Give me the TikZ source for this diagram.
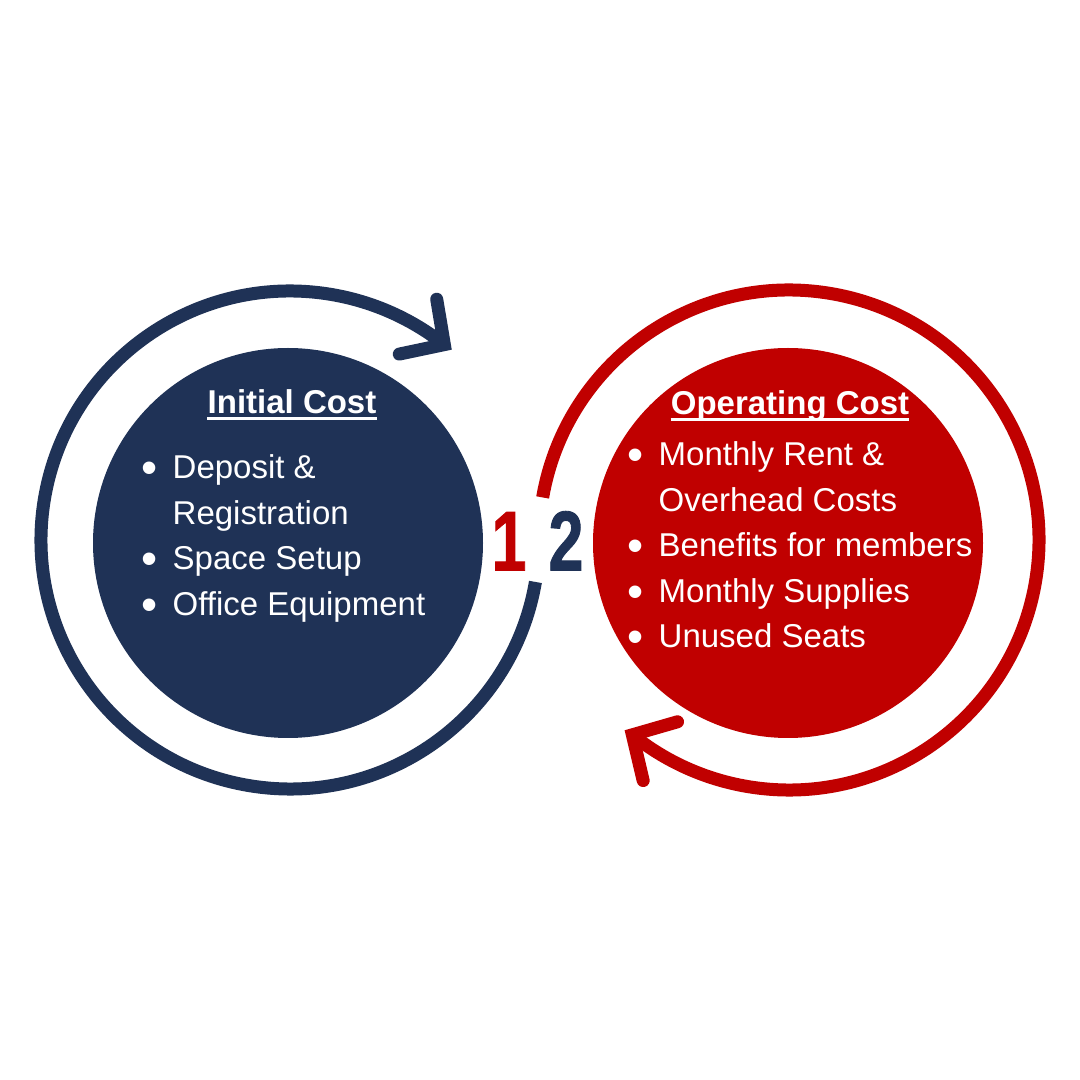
\documentclass[tikz,border=0pt]{standalone}
\usepackage{fontspec}
\setmainfont{Liberation Sans}
\newfontfamily\numfont[FakeStretch=0.74,FakeBold=1]{Liberation Sans}
\usetikzlibrary{calc}
\definecolor{costnavy}{HTML}{1F3256}
\definecolor{costred}{HTML}{C00000}
\tikzset{
    ringline/.style={line width=13pt,line cap=butt},
    barbline/.style={line width=13pt,line cap=round,line join=miter},
    costdisc/.style={circle,inner sep=0pt,minimum size=390pt},
    titletext/.style={font=\bfseries\fontsize{33}{40}\selectfont,text=white,inner sep=0pt,anchor=base},
    listtext/.style={font=\fontsize{33}{45.5}\selectfont,text=white,inner sep=0pt,anchor=base west},
    digit/.style={font=\numfont\bfseries\fontsize{85}{85}\selectfont,inner sep=0pt,anchor=base}
}
\newcommand{\costbullet}{\makebox[29.3pt][l]{\hspace{-2.2pt}\raisebox{-5pt}{\fontsize{46}{46}\selectfont\textbullet}}}
\newcommand{\costindent}{\makebox[29.3pt]{}}

\begin{document}
\begin{tikzpicture}[x=1pt,y=1pt]
  \fill[white] (0,0) rectangle (1080,1080);
  \useasboundingbox (0,0) rectangle (1080,1080);

  % centres of the two rings
  \coordinate (nc) at (290,540);
  \coordinate (rc) at (789,540);

  % filled discs
  \node[costdisc,fill=costnavy] (ndisc) at (288,537) {};
  \node[costdisc,fill=costred] (rdisc) at (788,537) {};

  % navy ring with arrow (clockwise)
  \draw[ringline,costnavy] ($(nc)+(-9.7:249pt)$)
    arc[start angle=-9.7,end angle=-308.3,radius=249pt] coordinate (ntip);
  \draw[barbline,costnavy] ($(ntip)+(99.5:46pt)$) -- (ntip) -- ($(ntip)+(191.9:46pt)$);

  % red ring with arrow (clockwise)
  \draw[ringline,costred] ($(rc)+(170.2:250pt)$)
    arc[start angle=170.2,end angle=-128.8,radius=250pt] coordinate (rtip);
  \draw[barbline,costred] ($(rtip)+(16.1:47pt)$) -- (rtip) -- ($(rtip)+(-76.7:47pt)$);

  % step numbers
  \node[digit,text=costred] (one) at (509,509.5) {1};
  \node[digit,text=costnavy] (two) at (566,509.5) {2};

  % titles
  \node[titletext] (ntitle) at (292,666) {Initial Cost};
  \draw[white,line width=2.6pt] ([yshift=-4.5pt]ntitle.base west) -- ([yshift=-4.5pt]ntitle.base east);

  \node[titletext] (rtitle) at (790,665) {Operating Cost};
  \draw[white,line width=2.6pt] ([yshift=-4.5pt]rtitle.base west) -- ([yshift=-4.5pt]rtitle.base east);

  % lists
  \node[listtext] (nlist) at (143.2,601) {%
    \begin{tabular}[t]{@{}l@{}}
      \costbullet Deposit \&\\
      \costindent Registration\\
      \costbullet Space Setup\\
      \costbullet Office Equipment
    \end{tabular}};

  \node[listtext] (rlist) at (629.2,614) {%
    \begin{tabular}[t]{@{}l@{}}
      \costbullet Monthly Rent \&\\
      \costindent Overhead Costs\\
      \costbullet Benefits for members\\
      \costbullet Monthly Supplies\\
      \costbullet Unused Seats
    \end{tabular}};

\end{tikzpicture}
\end{document}
